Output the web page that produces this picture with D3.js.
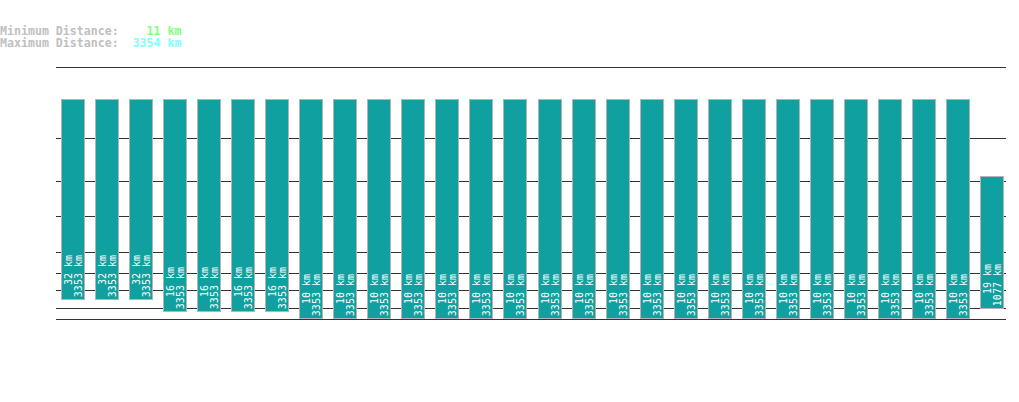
<!DOCTYPE html>
<html>
<head>
<meta charset="utf-8">
<script src="https://cdn.jsdelivr.net/npm/d3@7"></script>
<style>
  html, body { margin: 0; padding: 0; background: #ffffff; }
  svg { display: block; }
</style>
</head>
<body>
<svg id="chart" width="1019" height="402"></svg>
<script>
// values, one entry per bar
const minKm = [32, 32, 32, 16, 16, 16, 16,
  10, 10, 10, 10, 10, 10, 10, 10, 10, 10,
  10, 10, 10, 10, 10, 10, 10, 10, 10, 10,
  19]
const maxKm = [3353, 3353, 3353, 3353, 3353, 3353, 3353,
  3353, 3353, 3353, 3353, 3353, 3353, 3353, 3353, 3353, 3353,
  3353, 3353, 3353, 3353, 3353, 3353, 3353, 3353, 3353, 3353,
  1077]
const gridValues = [10, 20, 50, 100, 200, 500, 1000, 2000, 5000]
const summary = [
  { label: 'Minimum Distance:', value: '11 km', color: '#80ff80' },
  { label: 'Maximum Distance:', value: '3354 km', color: '#80ffff' },
]

const svg = d3.select('#chart')

const x = d3.scaleBand()
  .domain(d3.range(minKm.length))
  .range([56, 1008])
  .paddingInner(11 / 34)
  .paddingOuter(0.147)

const y = d3.scalePow()
  .exponent(0.3)
  .domain([0, 5000])
  .range([365.5, 66.5])

// bars sit one pixel above the grid in the original
const barY = v => Math.round(y(v)) - 1

// header: one text block, two lines, fixed-width columns
const header = svg.append('text')
  .attr('x', 0)
  .attr('y', 35.3)
  .attr('xml:space', 'preserve')
  .attr('font-family', '"DejaVu Sans Mono", monospace')
  .attr('font-weight', 'bold')
  .attr('font-size', '11.6px')
summary.forEach((d, i) => {
  header.append('tspan')
    .attr('x', 0)
    .attr('dy', i === 0 ? 0 : 12)
    .attr('fill', '#c0c0c0')
    .text(d.label)
  header.append('tspan')
    .attr('fill', d.color)
    .text(d.value.padStart(9, ' '))
})

// grid lines behind the bars
svg.append('g')
  .selectAll('line')
  .data(gridValues)
  .join('line')
  .attr('x1', 56)
  .attr('x2', 1006)
  .attr('y1', d => Math.round(y(d)) + 0.5)
  .attr('y2', d => Math.round(y(d)) + 0.5)
  .attr('stroke', '#333333')
  .attr('stroke-width', 1)
  .attr('shape-rendering', 'crispEdges')

const bars = svg.append('g')
  .selectAll('g')
  .data(minKm.map((v, i) => ({ i, min: v, max: maxKm[i] })))
  .join('g')

bars.append('rect')
  .attr('x', d => Math.round(x(d.i)) + 0.5)
  .attr('y', d => barY(d.max) + 0.5)
  .attr('width', Math.round(x.bandwidth()))
  .attr('height', d => barY(d.min) - barY(d.max))
  .attr('fill', '#11a0a0')
  .attr('stroke', '#b4b4b4')
  .attr('stroke-width', 1)
  .attr('shape-rendering', 'crispEdges')

// rotated labels, read bottom to top
bars.each(function (d) {
  const g = d3.select(this)
  const left = Math.round(x(d.i))
  const top = barY(d.min) - 44
  const lines = [`${d.min} km`, `${d.max} km`]
  lines.forEach((txt, k) => {
    g.append('text')
      .attr('transform', `translate(${left + 11 + k * 10},${top}) rotate(-90)`)
      .attr('text-anchor', 'end')
      .attr('font-family', '"DejaVu Sans Mono", monospace')
      .attr('font-size', '10px')
      .attr('fill', '#ffffff')
      .text(txt)
  })
})
</script>
</body>
</html>
